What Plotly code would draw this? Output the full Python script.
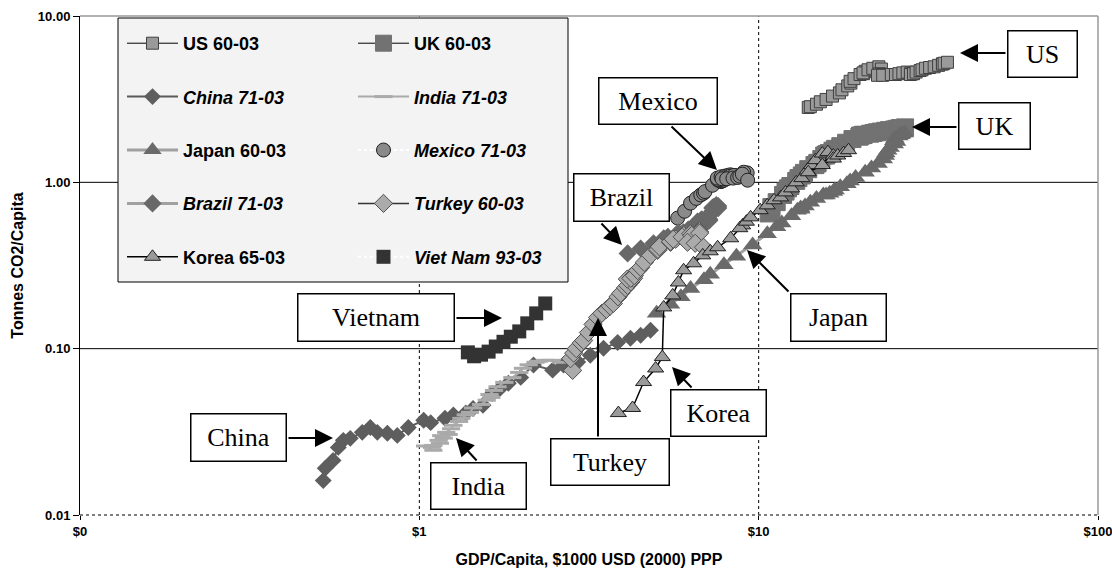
import plotly.graph_objects as go

# ---------------- data (GDP/capita k$ , tonnes CO2/capita) ----------------
us_gdp = [14.0, 14.2, 14.8, 15.2, 15.8, 16.5, 17.3, 17.6, 18.3, 18.7, 18.6, 19.1, 19.9, 20.6, 20.4, 20.3, 21.0, 21.7, 22.6, 23.0,
          22.7, 23.0, 22.4, 23.2, 24.6, 25.3, 25.9, 26.6, 27.4, 28.1, 28.4, 28.0, 28.6, 29.1, 29.9, 30.3, 31.0, 31.9, 32.9, 33.9,
          34.8, 34.8, 35.2, 36.0]
us_co2 = [2.82, 2.85, 2.95, 3.05, 3.15, 3.30, 3.45, 3.60, 3.80, 3.95, 4.05, 4.20, 4.45, 4.65, 4.50, 4.55, 4.75, 4.85, 4.95, 4.80,
          4.50, 4.45, 4.40, 4.40, 4.45, 4.45, 4.50, 4.55, 4.60, 4.55, 4.50, 4.45, 4.50, 4.60, 4.70, 4.75, 4.85, 4.90, 4.95, 5.05,
          5.15, 5.15, 5.20, 5.27]

uk_gdp = [10.7, 10.9, 10.9, 11.3, 11.8, 12.0, 12.2, 12.4, 12.9, 13.1, 13.4, 13.6, 14.0, 14.9, 14.7, 14.6, 14.9, 15.3, 15.8, 16.1,
          15.8, 15.6, 15.9, 16.5, 16.8, 17.4, 18.1, 18.9, 19.8, 20.2, 20.3, 19.9, 19.9, 20.4, 21.3, 21.8, 22.3, 22.9, 23.6, 24.2,
          25.1, 25.6, 26.1, 27.0]
uk_co2 = [0.65, 0.68, 0.71, 0.76, 0.84, 0.88, 0.92, 0.95, 1.02, 1.06, 1.10, 1.14, 1.20, 1.30, 1.27, 1.27, 1.31, 1.38, 1.45, 1.50,
          1.47, 1.45, 1.48, 1.55, 1.59, 1.65, 1.73, 1.82, 1.88, 1.92, 1.93, 1.90, 1.91, 1.93, 1.96, 1.98, 2.00, 2.02, 2.04, 2.06,
          2.08, 2.10, 2.12, 2.14]

china_gdp = [0.521, 0.528, 0.557, 0.577, 0.597, 0.626, 0.679, 0.717, 0.752, 0.805, 0.861, 0.928, 1.03, 1.08, 1.19, 1.26, 1.37,
             1.44, 1.54, 1.64, 1.73, 1.83, 1.99, 2.17, 2.47, 2.66, 2.93, 3.19, 3.49, 3.84, 4.19, 4.49, 4.80]
china_co2 = [0.0161, 0.0191, 0.0213, 0.0255, 0.0281, 0.0289, 0.0314, 0.0336, 0.0314, 0.0310, 0.0301, 0.0336, 0.0371, 0.0359,
             0.0382, 0.0399, 0.0411, 0.0437, 0.0457, 0.0538, 0.0577, 0.0619, 0.0672, 0.0797, 0.0743, 0.0797, 0.0831, 0.0913,
             0.1005, 0.109, 0.1155, 0.1205, 0.129]

india_gdp = [1.10, 1.04, 1.09, 1.10, 1.15, 1.14, 1.18, 1.22, 1.16, 1.20, 1.24, 1.26, 1.31, 1.33, 1.37, 1.41, 1.44, 1.52, 1.58,
             1.63, 1.61, 1.66, 1.70, 1.78, 1.88, 1.97, 2.02, 2.10, 2.20, 2.25, 2.35, 2.45, 2.62]
india_co2 = [0.0245, 0.0260, 0.0255, 0.0262, 0.0270, 0.0281, 0.0290, 0.0305, 0.0300, 0.0314, 0.0330, 0.0346, 0.0365, 0.0381,
             0.0400, 0.0414, 0.0440, 0.0462, 0.0490, 0.0509, 0.0530, 0.0561, 0.0590, 0.0627, 0.0670, 0.0720, 0.0762, 0.0800,
             0.0828, 0.0840, 0.0851, 0.0851, 0.0828]

japan_gdp = [5.0, 5.5, 5.9, 6.3, 6.9, 7.2, 7.9, 8.6, 9.6, 10.6, 11.3, 11.7, 12.5, 13.3, 13.0, 13.3, 13.7, 14.2, 14.8, 15.5,
             15.8, 16.2, 16.6, 16.8, 17.4, 18.2, 18.6, 19.3, 20.6, 21.5, 22.5, 23.3, 23.6, 23.7, 24.0, 24.4, 25.1, 25.5, 25.0,
             25.2, 25.9, 26.2, 26.4, 26.9]
japan_co2 = [0.163, 0.185, 0.205, 0.23, 0.26, 0.28, 0.32, 0.36, 0.42, 0.49, 0.54, 0.57, 0.63, 0.70, 0.68, 0.69, 0.72, 0.76,
             0.80, 0.84, 0.84, 0.86, 0.88, 0.90, 0.94, 0.98, 1.02, 1.07, 1.15, 1.22, 1.30, 1.38, 1.45, 1.50, 1.56, 1.62, 1.70,
             1.76, 1.78, 1.84, 1.90, 1.93, 1.95, 1.98]

mexico_gdp = [5.77, 6.05, 6.30, 6.55, 6.75, 6.88, 6.95, 7.31, 7.75, 8.11, 8.50, 8.30, 7.80, 7.90, 7.95, 7.60, 7.57, 7.55, 7.75,
              7.95, 8.11, 8.25, 8.25, 8.45, 7.80, 8.05, 8.40, 8.67, 8.80, 9.25, 9.03, 8.95, 9.28]
mexico_co2 = [0.61, 0.67, 0.75, 0.80, 0.84, 0.86, 0.88, 0.96, 1.01, 1.06, 1.10, 1.10, 1.02, 1.03, 1.05, 1.03, 1.04, 1.06, 1.08,
              1.09, 1.10, 1.11, 1.09, 1.10, 1.05, 1.05, 1.06, 1.07, 1.09, 1.14, 1.15, 1.12, 1.03]

brazil_gdp = [4.11, 4.49, 4.90, 5.25, 5.40, 5.80, 6.00, 6.20, 6.50, 6.90, 6.50, 6.45, 6.15, 6.35, 6.70, 7.05, 7.15, 7.05, 7.15,
              6.75, 6.75, 6.60, 6.80, 7.10, 7.25, 7.30, 7.45, 7.35, 7.30, 7.50, 7.50, 7.60, 7.60]
brazil_co2 = [0.374, 0.40, 0.43, 0.46, 0.47, 0.50, 0.50, 0.52, 0.55, 0.57, 0.53, 0.52, 0.50, 0.50, 0.53, 0.58, 0.59, 0.58, 0.60,
              0.58, 0.59, 0.58, 0.60, 0.62, 0.65, 0.67, 0.70, 0.71, 0.70, 0.72, 0.73, 0.72, 0.70]

turkey_gdp = [2.83, 2.79, 2.85, 2.90, 3.00, 3.05, 3.15, 3.25, 3.35, 3.45, 3.56, 3.65, 3.73, 3.85, 3.92, 4.05, 4.11, 4.20, 4.28,
              4.20, 4.10, 4.20, 4.30, 4.40, 4.49, 4.60, 4.80, 5.04, 5.05, 5.10, 5.50, 5.50, 5.70, 6.01, 5.60, 5.95, 6.30, 6.61,
              6.70, 6.35, 6.70, 6.17, 6.50, 6.88]
turkey_co2 = [0.074, 0.087, 0.094, 0.100, 0.108, 0.112, 0.125, 0.140, 0.154, 0.163, 0.172, 0.180, 0.187, 0.205, 0.215, 0.232,
              0.240, 0.252, 0.265, 0.270, 0.262, 0.265, 0.275, 0.295, 0.308, 0.330, 0.364, 0.390, 0.395, 0.410, 0.436, 0.440,
              0.455, 0.480, 0.455, 0.470, 0.490, 0.500, 0.505, 0.480, 0.495, 0.436, 0.430, 0.407]

korea_gdp = [3.86, 4.25, 4.58, 4.97, 5.20, 5.25, 5.58, 5.80, 6.01, 6.43, 6.84, 7.20, 7.57, 8.27, 8.97, 8.80, 9.20, 9.47, 10.1,
             10.6, 11.1, 11.6, 12.0, 12.5, 12.9, 13.4, 13.9, 14.3, 14.7, 15.4, 16.0, 16.6, 14.0, 15.4, 16.6, 17.1, 17.8, 18.4]
korea_co2 = [0.041, 0.044, 0.063, 0.076, 0.089, 0.177, 0.209, 0.25, 0.296, 0.326, 0.364, 0.385, 0.407, 0.461, 0.551, 0.53,
             0.58, 0.616, 0.68, 0.727, 0.78, 0.812, 0.87, 0.92, 1.00, 1.06, 1.18, 1.27, 1.36, 1.49, 1.52, 1.45, 1.15, 1.27,
             1.39, 1.45, 1.50, 1.56]

vietnam_gdp = [1.39, 1.45, 1.52, 1.60, 1.68, 1.77, 1.86, 1.97, 2.08, 2.21, 2.35]
vietnam_co2 = [0.095, 0.090, 0.092, 0.096, 0.103, 0.110, 0.118, 0.127, 0.142, 0.163, 0.187]

x_tickvals = [0.1, 1, 10, 100]
x_ticktext = ['$0', '$1', '$10', '$100']
y_tickvals = [0.01, 0.1, 1, 10]
y_ticktext = ['0.01', '0.10', '1.00', '10.00']

# ---------------- figure ----------------
W, H = 1112, 569
ML, MR, MT, MB = 80, 14, 16, 54
PW, PH = W - ML - MR, H - MT - MB


def px(xp):
    return (xp - ML) / PW


def py(yp):
    return (H - MB - yp) / PH


fig = go.Figure()

series = [
    dict(name='US 60-03', x=us_gdp, y=us_co2, legend='legend',
         line=dict(color='black', width=1),
         marker=dict(symbol='square', size=12, color='#9a9a9a', line=dict(color='#404040', width=1))),
    dict(name='UK 60-03', x=uk_gdp, y=uk_co2, legend='legend2',
         line=dict(color='black', width=1),
         marker=dict(symbol='square', size=17, color='#727272', line=dict(color='#727272', width=1))),
    dict(name='<i>China 71-03</i>', x=china_gdp, y=china_co2, legend='legend',
         line=dict(color='#5a5a5a', width=2),
         marker=dict(symbol='diamond', size=13, color='#5e5e5e', line=dict(width=0))),
    dict(name='<i>India 71-03</i>', x=india_gdp, y=india_co2, legend='legend2',
         line=dict(color='#aaaaaa', width=2),
         marker=dict(symbol='line-ew', size=13, color='#aaaaaa', line=dict(color='#aaaaaa', width=3))),
    dict(name='Japan 60-03', x=japan_gdp, y=japan_co2, legend='legend',
         line=dict(color='#a0a0a0', width=3),
         marker=dict(symbol='triangle-up', size=17, color='#6a6a6a', line=dict(width=0))),
    dict(name='<i>Mexico 71-03</i>', x=mexico_gdp, y=mexico_co2, legend='legend2',
         line=dict(color='white', width=2, dash='dot'),
         marker=dict(symbol='circle', size=14, color='#8a8a8a', line=dict(color='#202020', width=1))),
    dict(name='<i>Brazil 71-03</i>', x=brazil_gdp, y=brazil_co2, legend='legend',
         line=dict(color='#a0a0a0', width=3),
         marker=dict(symbol='diamond', size=14, color='#686868', line=dict(width=0))),
    dict(name='<i>Turkey 60-03</i>', x=turkey_gdp, y=turkey_co2, legend='legend2',
         line=dict(color='#333333', width=1.5),
         marker=dict(symbol='diamond', size=14, color='#ababab', line=dict(color='#505050', width=1))),
    dict(name='Korea 65-03', x=korea_gdp, y=korea_co2, legend='legend',
         line=dict(color='black', width=1.5),
         marker=dict(symbol='triangle-up', size=14, color='#9a9a9a', line=dict(color='#202020', width=1))),
    dict(name='<i>Viet Nam 93-03</i>', x=vietnam_gdp, y=vietnam_co2, legend='legend2',
         line=dict(color='white', width=2, dash='dot'),
         marker=dict(symbol='square', size=14, color='#333333', line=dict(width=0))),
]

for i, s in enumerate(series):
    fig.add_trace(go.Scatter(x=s['x'], y=s['y'], name=s['name'], mode='lines+markers',
                             line=s['line'], marker=s['marker'], legend=s['legend'],
                             legendgroup='g%d' % i, hoverinfo='skip'))

# ---------------- grid / frame shapes ----------------
shapes = []
for yy in [1 / 3, 2 / 3]:
    shapes.append(dict(type='line', xref='paper', yref='paper', x0=0, x1=1, y0=yy, y1=yy,
                       line=dict(color='black', width=1), layer='below'))
for xx in [1 / 3, 2 / 3]:
    shapes.append(dict(type='line', xref='paper', yref='paper', x0=xx, x1=xx, y0=0, y1=1,
                       line=dict(color='black', width=1, dash='dot'), layer='below'))
shapes.append(dict(type='line', xref='paper', yref='paper', x0=0, x1=1, y0=1, y1=1,
                   line=dict(color='#999999', width=1.5), layer='below'))
shapes.append(dict(type='line', xref='paper', yref='paper', x0=1, x1=1, y0=0, y1=1,
                   line=dict(color='#999999', width=1.5), layer='below'))
shapes.append(dict(type='line', xref='paper', yref='paper', x0=0, x1=1, y0=0, y1=0,
                   line=dict(color='#555555', width=1.5, dash='dot'), layer='below'))
shapes.append(dict(type='rect', xref='paper', yref='paper', x0=px(118), x1=px(568), y0=py(282), y1=py(18),
                   fillcolor='#f3f3f3', line=dict(color='black', width=1), layer='below'))

# ---------------- labels with arrows ----------------
labels = [
    ('US', 1007, 30, 1078, 78, (1007, 53), (960, 53)),
    ('UK', 958, 102, 1031, 150, (958, 127), (912, 127)),
    ('Mexico', 598, 77, 718, 125, (670, 125), (717, 170)),
    ('Brazil', 573, 173, 670, 222, (600, 222), (622, 245)),
    ('Vietnam', 297, 293, 455, 342, (455, 318), (502, 318)),
    ('China', 190, 413, 287, 462, (287, 438), (333, 438)),
    ('India', 430, 462, 527, 510, (478, 462), (456, 438)),
    ('Turkey', 550, 438, 670, 486, (598, 438), (598, 318)),
    ('Korea', 670, 389, 767, 437, (693, 389), (672, 367)),
    ('Japan', 790, 293, 887, 342, (790, 293), (747, 250)),
]
annotations = []
for text, l, t, r, b, st, tip in labels:
    annotations.append(dict(text='', xref='paper', yref='paper', x=px(tip[0]), y=py(tip[1]),
                            ax=st[0] - tip[0], ay=st[1] - tip[1], axref='pixel', ayref='pixel',
                            showarrow=True, arrowhead=2, arrowsize=1.8, arrowwidth=2, arrowcolor='black',
                            standoff=0, startstandoff=0))
    annotations.append(dict(text=text, xref='paper', yref='paper', x=px((l + r) / 2), y=py((t + b) / 2),
                            xanchor='center', yanchor='middle', showarrow=False,
                            width=r - l - 5, height=b - t - 5, borderpad=1, borderwidth=1.5,
                            bordercolor='black', bgcolor='white', align='center', valign='middle',
                            font=dict(family='Liberation Serif, Times New Roman, serif', size=26, color='black')))

tickfont = dict(family='Liberation Sans, Arial, sans-serif', size=13, color='black', weight='bold')
titlefont = dict(family='Liberation Sans, Arial, sans-serif', size=16, color='black', weight='bold')
legfont = dict(family='Liberation Sans, Arial, sans-serif', size=18, color='black', weight='bold')

fig.update_layout(
    width=W, height=H, margin=dict(l=ML, r=MR, t=MT, b=MB, pad=0, autoexpand=False),
    paper_bgcolor='white', plot_bgcolor='white',
    xaxis=dict(type='log', range=[-1, 2], tickvals=x_tickvals, ticktext=x_ticktext, automargin=False,
               showgrid=False, zeroline=False, showline=False, ticks='outside', ticklen=4,
               tickcolor='black', tickfont=tickfont, ticklabeloverflow='allow',
               title=dict(text='GDP/Capita, $1000 USD (2000) PPP', font=titlefont, standoff=16)),
    yaxis=dict(type='log', range=[-2, 1], tickvals=y_tickvals, ticktext=y_ticktext, automargin=False,
               showgrid=False, zeroline=False, showline=True, linecolor='black', linewidth=1,
               ticks='outside', ticklen=6, tickcolor='black', tickfont=tickfont,
               title=dict(text='Tonnes CO2/Capita', font=titlefont, standoff=10)),
    showlegend=True,
    legend=dict(x=px(122), y=py(25), xanchor='left', yanchor='top', bgcolor='rgba(0,0,0,0)',
                borderwidth=0, font=legfont, tracegroupgap=27, itemwidth=51, traceorder='grouped',
                orientation='v', itemclick=False, itemdoubleclick=False),
    legend2=dict(x=px(353), y=py(25), xanchor='left', yanchor='top', bgcolor='rgba(0,0,0,0)',
                 borderwidth=0, font=legfont, tracegroupgap=27, itemwidth=51, traceorder='grouped',
                 orientation='v', itemclick=False, itemdoubleclick=False),
    shapes=shapes,
    annotations=annotations,
)

fig.write_html('out.html')
